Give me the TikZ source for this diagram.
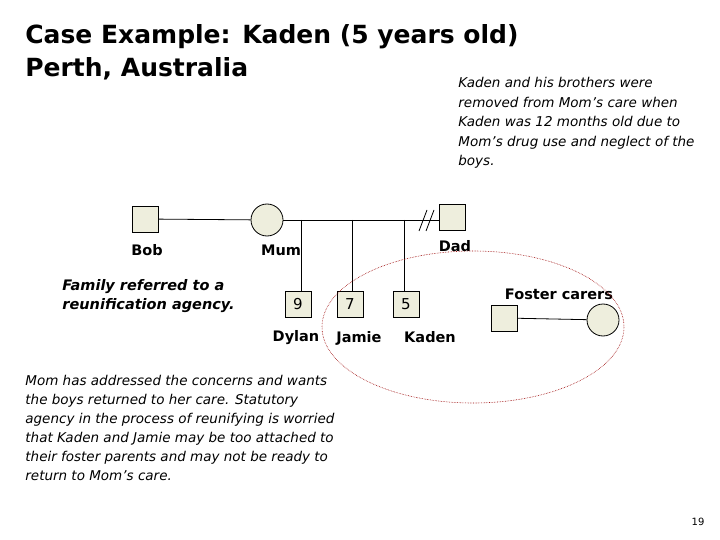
\documentclass[tikz,border=0pt]{standalone}
\usepackage{fontspec}
\setmainfont{DejaVu Sans}
\begin{document}
\begin{tikzpicture}[x=1pt,y=-1pt,line width=0.8pt,
  sq/.style={draw,fill=beige,minimum size=26pt,inner sep=0pt,font=\fontsize{15}{17}\selectfont},
  ci/.style={draw,fill=beige,circle,minimum size=32pt,inner sep=0pt},
  lbl/.style={font=\bfseries\fontsize{14.5}{17}\selectfont},
  itx/.style={font=\itshape\fontsize{13}{18.5}\selectfont,align=left,anchor=north west,inner sep=0pt}]
\definecolor{beige}{HTML}{EEEEDD}
\useasboundingbox (0,0) rectangle (720,540);
\node[anchor=north west,inner sep=0pt,align=left,font=\bfseries\fontsize{25}{33}\selectfont] (title) at (25,24) {Case Example: Kaden (5 years old)\\Perth, Australia};
\node[itx,font=\itshape\fontsize{13.5}{19.5}\selectfont] (t1) at (458,77) {Kaden and his brothers were\\removed from Mom's care when\\Kaden was 12 months old due to\\Mom's drug use and neglect of the\\boys.};
\node[sq] (bob) at (145,219) {};
\node[ci] (mum) at (267,220) {};
\node[sq] (dad) at (452,217) {};
\coordinate (r) at (439,220);
\draw (bob) -- (mum);
\draw (mum.east) -- (r);
\draw (419,231) -- (427,210) (426,231) -- (434,210);
\coordinate (d1) at (301,220); \coordinate (d2) at (352,220); \coordinate (d3) at (404,220);
\node[sq] (dylan) at (298,304) {9};
\node[sq] (jamie) at (350,304) {7};
\node[sq] (kaden) at (406,304) {5};
\draw (d1) -- (d1|-dylan.north);
\draw (d2) -- (d2|-jamie.north);
\draw (d3) -- (d3|-kaden.north);
\node[lbl] at (147,250) {Bob};
\node[lbl] at (281,250) {Mum};
\node[lbl] at (455,246) {Dad};
\node[lbl] at (296,338) {Dylan};
\node[lbl] at (359,338) {Jamie};
\node[lbl] at (430,337) {Kaden};
\node[lbl] at (559,294) {Foster carers};
\node[sq] (fs) at (504,318) {};
\node[ci] (fc) at (603,320) {};
\draw (fs) -- (fc);
\node[itx,font=\bfseries\itshape\fontsize{14.5}{19}\selectfont] (t2) at (62,279) {Family referred to a\\reunification agency.};
\node[itx,font=\itshape\fontsize{13.5}{19}\selectfont] (t3) at (25,375) {Mom has addressed the concerns and wants\\the boys returned to her care. Statutory\\agency in the process of reunifying is worried\\that Kaden and Jamie may be too attached to\\their foster parents and may not be ready to\\return to Mom's care.};
\draw[densely dotted,line width=0.6pt,red!60!black] (473,327) ellipse [x radius=151,y radius=76];
\node[font=\fontsize{10}{11}\selectfont] (pg) at (698,522) {19};
\end{tikzpicture}
\end{document}
